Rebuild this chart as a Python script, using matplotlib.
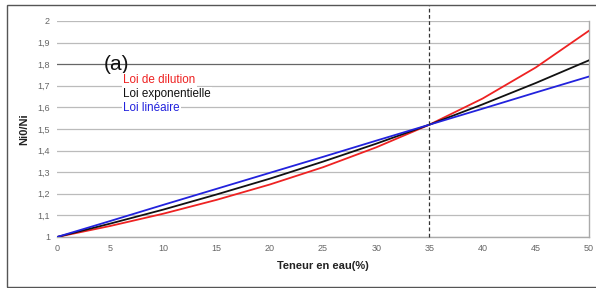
import matplotlib
matplotlib.use("Agg")
import matplotlib.pyplot as plt
from matplotlib.patches import Rectangle

plt.rcParams['font.family'] = ['Liberation Sans', 'DejaVu Sans']

teneur = [0, 5, 10, 15, 20, 25, 30, 35, 40, 45, 50]
loi_dilution = [1.0, 1.051, 1.108, 1.172, 1.243, 1.323, 1.415, 1.520, 1.641, 1.785, 1.955]
loi_exponentielle = [1.0, 1.062, 1.127, 1.197, 1.270, 1.349, 1.432, 1.520, 1.614, 1.713, 1.818]
loi_lineaire = [1.0, 1.074, 1.149, 1.223, 1.297, 1.371, 1.446, 1.520, 1.594, 1.669, 1.743]
x_ticks = [0, 5, 10, 15, 20, 25, 30, 35, 40, 45, 50]
y_ticks = [1.0, 1.1, 1.2, 1.3, 1.4, 1.5, 1.6, 1.7, 1.8, 1.9, 2.0]
y_tick_labels = ['1', '1,1', '1,2', '1,3', '1,4', '1,5', '1,6', '1,7', '1,8', '1,9', '2']
x_ref = 35

fig = plt.figure(figsize=(5.96, 2.88), dpi=100)
fig.patch.set_facecolor('white')
ax = fig.add_axes([57/596, 1-237/288, (589-57)/596, (237-21)/288])

# outer frame
fig.add_artist(Rectangle((7/596, 1-287/288), 1.0, (287-5)/288, transform=fig.transFigure,
                         fill=False, edgecolor='#555555', linewidth=1.0, clip_on=False))

for yv in y_ticks:
    c = '#666666' if abs(yv - 1.8) < 1e-9 else '#bbbbbb'
    ax.axhline(yv, color=c, linewidth=0.9, zorder=1)

ax.plot(teneur, loi_dilution, color='#ee2222', linewidth=1.3, zorder=3)
ax.plot(teneur, loi_exponentielle, color='#111111', linewidth=1.3, zorder=3)
ax.plot(teneur, loi_lineaire, color='#2222dd', linewidth=1.3, zorder=4)

ax.plot([x_ref, x_ref], [1.0, 2.074], color='#333333', linestyle=(0, (3, 2)),
        linewidth=0.9, clip_on=False, zorder=5)

ax.set_xlim(0, 50)
ax.set_ylim(1, 2)
ax.set_xticks(x_ticks)
ax.set_xticklabels([str(t) for t in x_ticks])
ax.set_yticks(y_ticks)
ax.set_yticklabels(y_tick_labels)
ax.tick_params(axis='both', length=0, labelsize=6.5, labelcolor='#666666', pad=5)
for s in ['top', 'left']:
    ax.spines[s].set_visible(False)
for s in ['right', 'bottom']:
    ax.spines[s].set_color('#aaaaaa')
    ax.spines[s].set_linewidth(1.0)

ax.set_xlabel('Teneur en eau(%)', fontsize=8, fontweight='bold', color='#222222', labelpad=6)
ax.set_ylabel('Ni0/Ni', fontsize=8, fontweight='bold', color='#222222', labelpad=6)

ax.text(4.35, 1.80, '(a)', fontsize=15, color='#111111', ha='left', va='center', zorder=6)
box = dict(facecolor='white', edgecolor='none', pad=1.0)
ax.text(6.2, 1.725, 'Loi de dilution', fontsize=8.4, color='#ee2222', ha='left', va='center', zorder=6, bbox=box)
ax.text(6.2, 1.66, 'Loi exponentielle', fontsize=8.4, color='#111111', ha='left', va='center', zorder=6, bbox=box)
ax.text(6.2, 1.595, 'Loi linéaire', fontsize=8.4, color='#2222dd', ha='left', va='center', zorder=6, bbox=box)

fig.savefig('out.png', dpi=100)
